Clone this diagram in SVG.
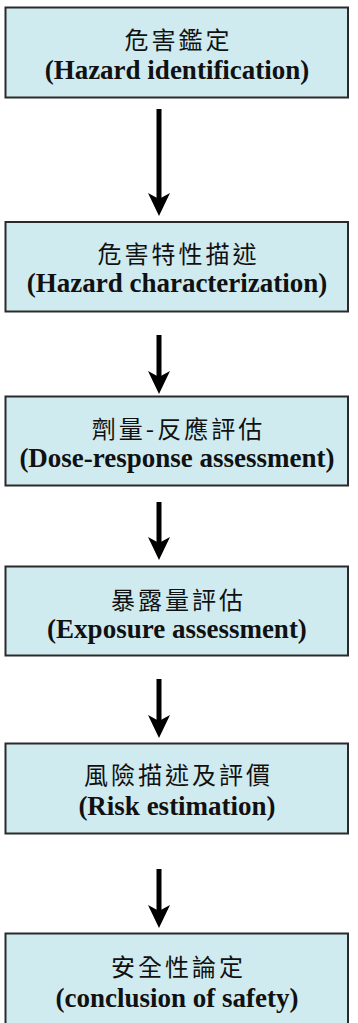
<svg xmlns="http://www.w3.org/2000/svg" width="358" height="1023" viewBox="0 0 358 1023">
<style>
.box{fill:#cfebf0;stroke:#2a2a2a;stroke-width:2}
.zh{font-family:"Noto Sans CJK TC","Noto Sans CJK SC",sans-serif;font-size:24px;fill:#111;text-anchor:middle;letter-spacing:3px}
.en{font-family:"Liberation Serif",serif;font-size:27px;font-weight:bold;fill:#111;text-anchor:middle}
.shaft{stroke:#000;stroke-width:5;fill:none}
.head{fill:#000}
</style>
<rect width="358" height="1023" fill="#fff"/>
<g id="connectors">
<line class="shaft" x1="159" y1="109" x2="159" y2="202"/><path class="head" d="M159,216 L170,193 L159,199 L148,193 Z"/>
<line class="shaft" x1="159" y1="335" x2="159" y2="380"/><path class="head" d="M159,394 L170,371 L159,377 L148,371 Z"/>
<line class="shaft" x1="159" y1="502" x2="159" y2="546"/><path class="head" d="M159,560 L170,537 L159,543 L148,537 Z"/>
<line class="shaft" x1="159" y1="679" x2="159" y2="724"/><path class="head" d="M159,738 L170,715 L159,721 L148,715 Z"/>
<line class="shaft" x1="159" y1="869" x2="159" y2="914"/><path class="head" d="M159,928 L170,905 L159,911 L148,905 Z"/>
</g>
<g id="n1"><rect class="box" x="5.5" y="7.5" width="342.5" height="90"/><text class="zh" x="178.5" y="49">危害鑑定</text><text class="en" x="177" y="79">(Hazard identification)</text></g>
<g id="n2"><rect class="box" x="5.5" y="222" width="342.5" height="89.5"/><text class="zh" x="178.5" y="263">危害特性描述</text><text class="en" x="177" y="292">(Hazard characterization)</text></g>
<g id="n3"><rect class="box" x="5.5" y="396.5" width="342.5" height="89"/><text class="zh" x="178.5" y="438">劑量-反應評估</text><text class="en" x="177" y="467">(Dose-response assessment)</text></g>
<g id="n4"><rect class="box" x="5.5" y="566.5" width="342.5" height="89"/><text class="zh" x="178.5" y="609">暴露量評估</text><text class="en" x="177" y="638">(Exposure assessment)</text></g>
<g id="n5"><rect class="box" x="5.5" y="743.5" width="342.5" height="90"/><text class="zh" x="178.5" y="784">風險描述及評價</text><text class="en" x="177" y="815">(Risk estimation)</text></g>
<g id="n6"><rect class="box" x="5.5" y="933.5" width="342.5" height="100"/><text class="zh" x="178.5" y="976">安全性論定</text><text class="en" x="177" y="1007">(conclusion of safety)</text></g>
</svg>
